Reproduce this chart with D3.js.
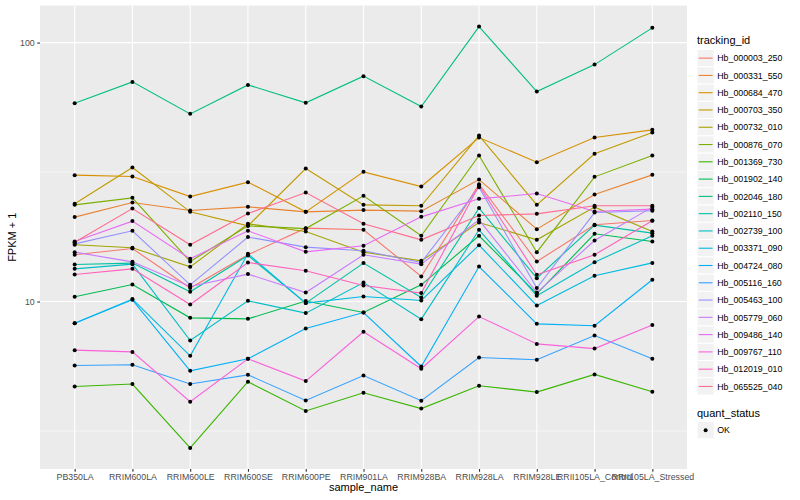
<!DOCTYPE html>
<html>
<head>
<meta charset="utf-8">
<script src="https://cdn.jsdelivr.net/npm/d3@7"></script>
<style>
  body { margin: 0; background: #fff; }
  text { font-family: "Liberation Sans", Arial, sans-serif; }
</style>
</head>
<body>
<svg width="800" height="500"></svg>
<script>
const samples = ['PB350LA', 'RRIM600LA', 'RRIM600LE', 'RRIM600SE', 'RRIM600PE', 'RRIM901LA',
  'RRIM928BA', 'RRIM928LA', 'RRIM928LE', 'RRII105LA_Control', 'RRII105LA_Stressed'];

const trackingIds = ['Hb_000003_250', 'Hb_000331_550', 'Hb_000684_470', 'Hb_000703_350',
  'Hb_000732_010', 'Hb_000876_070', 'Hb_001369_730', 'Hb_001902_140', 'Hb_002046_180',
  'Hb_002110_150', 'Hb_002739_100', 'Hb_003371_090', 'Hb_004724_080', 'Hb_005116_160',
  'Hb_005463_100', 'Hb_005779_060', 'Hb_009486_140', 'Hb_009767_110', 'Hb_012019_010',
  'Hb_065525_040'];

// ggplot hue palette, 20 levels
const palette = ['#F8766D', '#EA8331', '#D89000', '#C09B00', '#A3A500', '#7CAE00', '#39B600',
  '#00BB4E', '#00BF7D', '#00C1A3', '#00BFC4', '#00BAE0', '#00B0F6', '#35A2FF', '#9590FF',
  '#C77CFF', '#E76BF3', '#FA62DB', '#FF62BC', '#FF6C91'];

const quantStatus = ['OK'];

// FPKM + 1, one row per tracking id, one column per sample
const fpkm = [
  [15.15, 16.02, 11.27, 15.15, 19.20, 18.92, 12.49, 28.40, 14.27, 19.78, 20.55],
  [21.18, 24.11, 22.46, 23.21, 22.20, 22.54, 22.34, 29.58, 19.03, 25.89, 30.84],
  [30.76, 30.38, 25.43, 28.91, 22.20, 31.68, 27.80, 42.98, 34.53, 42.98, 46.02],
  [23.84, 32.92, 22.20, 19.60, 32.63, 23.62, 23.42, 43.75, 23.62, 37.19, 44.93],
  [16.56, 16.12, 13.61, 19.95, 18.63, 15.51, 14.36, 20.19, 17.31, 23.15, 18.63],
  [23.62, 25.14, 14.27, 19.60, 19.13, 25.59, 17.94, 36.63, 15.51, 30.30, 36.63],
  [4.70, 4.80, 2.72, 4.90, 3.78, 4.44, 3.86, 4.73, 4.47, 5.23, 4.48],
  [10.43, 11.63, 8.65, 8.57, 10.04, 9.07, 11.60, 17.94, 10.71, 18.26, 17.05],
  [58.35, 70.5, 53.05, 68.64, 58.5, 74.2, 56.6, 115.3, 64.7, 82.2, 114.0],
  [13.90, 14.07, 10.90, 15.05, 9.86, 14.07, 10.36, 22.95, 12.31, 19.72, 18.37],
  [13.37, 13.94, 7.07, 10.06, 9.02, 11.84, 8.55, 18.92, 10.52, 14.19, 17.94],
  [8.25, 10.22, 6.17, 15.28, 9.86, 10.45, 10.09, 16.51, 9.65, 12.57, 14.10],
  [8.25, 10.15, 5.40, 6.01, 7.87, 9.07, 5.61, 13.65, 8.20, 8.06, 12.13],
  [5.66, 5.70, 4.80, 5.21, 4.15, 5.18, 4.14, 6.08, 5.96, 7.39, 6.01],
  [16.70, 18.75, 11.60, 17.73, 16.22, 15.70, 14.15, 27.65, 11.27, 22.06, 22.40],
  [15.51, 14.23, 11.43, 12.76, 10.83, 15.15, 13.94, 20.68, 10.83, 17.20, 23.15],
  [17.05, 20.44, 14.62, 18.75, 15.55, 16.41, 21.23, 24.92, 26.12, 22.26, 22.74],
  [6.49, 6.39, 4.10, 6.01, 4.93, 7.64, 5.50, 8.75, 6.86, 6.58, 8.11],
  [12.72, 13.37, 9.74, 14.15, 13.14, 11.53, 10.78, 28.05, 12.68, 15.15, 20.49],
  [16.93, 22.86, 16.56, 21.86, 26.35, 19.95, 17.31, 21.48, 21.81, 23.42, 23.42]
];

const yTicks = [10, 100];

let svg = d3.select('svg');
let pLeft = 40, pRight = 687, pTop = 5.5, pBottom = 469;

let x = d3.scalePoint()
  .domain(samples)
  .range([pLeft, pRight])
  .padding(0.6);

// log scale with ggplot style 5% expansion
let all = fpkm.flat();
let lo = Math.log10(d3.min(all)), hi = Math.log10(d3.max(all));
let pad = (hi - lo) * 0.05;
let y = d3.scaleLog()
  .domain([Math.pow(10, lo - pad), Math.pow(10, hi + pad)])
  .range([pBottom, pTop]);

svg.append('rect')
  .attr('width', 800).attr('height', 500).attr('fill', '#fff');

//Panel
svg.append('rect')
  .attr('x', pLeft).attr('y', pTop)
  .attr('width', pRight - pLeft).attr('height', pBottom - pTop)
  .attr('fill', '#EBEBEB');

let minor = [0.5, 1.5, 2.5].map(e => Math.pow(10, e))
  .filter(v => v > y.domain()[0] && v < y.domain()[1]);

svg.append('g')
  .selectAll('line')
  .data(minor)
  .enter()
  .append('line')
  .attr('x1', pLeft).attr('x2', pRight)
  .attr('y1', d => y(d)).attr('y2', d => y(d))
  .attr('stroke', '#fff').attr('stroke-width', 0.55);

svg.append('g')
  .selectAll('line')
  .data(yTicks)
  .enter()
  .append('line')
  .attr('x1', pLeft).attr('x2', pRight)
  .attr('y1', d => y(d)).attr('y2', d => y(d))
  .attr('stroke', '#fff').attr('stroke-width', 1.1);

svg.append('g')
  .selectAll('line')
  .data(samples)
  .enter()
  .append('line')
  .attr('x1', d => x(d)).attr('x2', d => x(d))
  .attr('y1', pTop).attr('y2', pBottom)
  .attr('stroke', '#fff').attr('stroke-width', 1.1);

//Lines
let line = d3.line()
  .x((d, i) => x(samples[i]))
  .y(d => y(d));

svg.append('g')
  .selectAll('path')
  .data(fpkm)
  .enter()
  .append('path')
  .attr('d', line)
  .attr('fill', 'none')
  .attr('stroke', (d, i) => palette[i])
  .attr('stroke-width', 1.1);

//Points
let pts = [];
fpkm.forEach(row => row.forEach((v, i) => pts.push([samples[i], v])));

svg.append('g')
  .selectAll('circle')
  .data(pts)
  .enter()
  .append('circle')
  .attr('cx', d => x(d[0]))
  .attr('cy', d => y(d[1]))
  .attr('r', 2)
  .attr('fill', '#000');

//Axes
let xAxis = svg.append('g')
  .attr('transform', `translate(0,${pBottom})`)
  .call(d3.axisBottom(x).tickSize(2.75).tickPadding(2.5));

let yAxis = svg.append('g')
  .attr('transform', `translate(${pLeft},0)`)
  .call(d3.axisLeft(y).tickValues(yTicks).tickFormat(d3.format('d')).tickSize(2.75).tickPadding(2.5));

[xAxis, yAxis].forEach(a => {
  a.select('.domain').remove();
  a.selectAll('line').attr('stroke', '#333333').attr('stroke-width', 1.1);
  a.selectAll('text')
    .attr('fill', '#4D4D4D')
    .style('font-size', '8.8px')
    .style('font-family', '"Liberation Sans", Arial, sans-serif');
});

svg.append('text')
  .attr('x', (pLeft + pRight) / 2).attr('y', 491)
  .attr('text-anchor', 'middle')
  .style('font-size', '11px')
  .text('sample_name');

svg.append('text')
  .attr('transform', `translate(16,${(pTop + pBottom) / 2}) rotate(-90)`)
  .attr('text-anchor', 'middle')
  .style('font-size', '11px')
  .text('FPKM + 1');

//Legend
let lx = 697, key = 17.28;

svg.append('text')
  .attr('x', lx).attr('y', 43.5)
  .style('font-size', '11px')
  .text('tracking_id');

let lg = svg.append('g')
  .selectAll('g')
  .data(trackingIds)
  .enter()
  .append('g')
  .attr('transform', (d, i) => `translate(${lx},${49.5 + i * key})`);

lg.append('rect')
  .attr('width', key).attr('height', key)
  .attr('fill', '#F2F2F2').attr('stroke', '#fff');

lg.append('line')
  .attr('x1', 1.7).attr('x2', key - 1.7)
  .attr('y1', key / 2).attr('y2', key / 2)
  .attr('stroke', (d, i) => palette[i])
  .attr('stroke-width', 1.1);

lg.append('text')
  .attr('x', key + 3).attr('y', key / 2 + 3.2)
  .style('font-size', '8.8px')
  .text(d => d);

svg.append('text')
  .attr('x', lx).attr('y', 416.5)
  .style('font-size', '11px')
  .text('quant_status');

let qg = svg.append('g')
  .selectAll('g')
  .data(quantStatus)
  .enter()
  .append('g')
  .attr('transform', (d, i) => `translate(${lx},${421.5 + i * key})`);

qg.append('rect')
  .attr('width', key).attr('height', key)
  .attr('fill', '#F2F2F2').attr('stroke', '#fff');

qg.append('circle')
  .attr('cx', key / 2).attr('cy', key / 2)
  .attr('r', 2).attr('fill', '#000');

qg.append('text')
  .attr('x', key + 3).attr('y', key / 2 + 3.2)
  .style('font-size', '8.8px')
  .text(d => d);
</script>
</body>
</html>
